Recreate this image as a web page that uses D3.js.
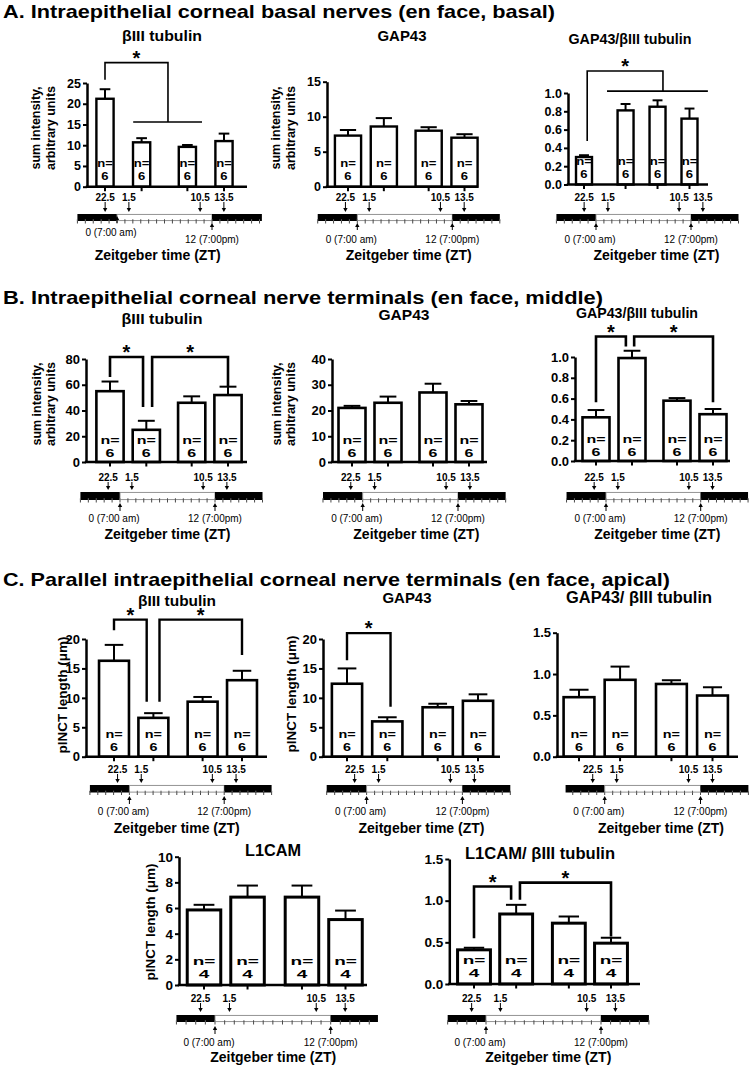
<!DOCTYPE html>
<html><head><meta charset="utf-8">
<script src="https://cdn.jsdelivr.net/npm/d3@7/dist/d3.min.js"></script>
<style>
body{margin:0;background:#fff;}
svg{display:block;font-family:"Liberation Sans",Arial,Helvetica,sans-serif;}
</style></head><body>
<svg id="chart" width="750" height="1065"></svg>
<script>
// ---------------- DATA ----------------
const sampleTimes = ["22.5", "1.5", "10.5", "13.5"];       // ZT of sampling (bars)
const ztMarks = [0, 12];
const ztMarkLabels = ["0 (7:00 am)", "12 (7:00pm)"];
const sectionTitles = [
  "A. Intraepithelial corneal basal nerves (en face, basal)",
  "B. Intraepithelial corneal nerve terminals (en face, middle)",
  "C. Parallel intraepithelial corneal nerve terminals (en face, apical)"
];
const nSix = [6, 6, 6, 6];
const nFour = [4, 4, 4, 4];

// A. basal
const aTubMean = [21.2, 10.7, 9.6, 11.0];
const aTubSem  = [2.3, 1.0, 0.45, 1.8];
const aGapMean = [7.3, 8.6, 8.0, 7.0];
const aGapSem  = [0.8, 1.2, 0.5, 0.5];
const aRatMean = [0.30, 0.81, 0.85, 0.72];
const aRatSem  = [0.02, 0.07, 0.07, 0.11];
// B. middle
const bTubMean = [55, 25, 46, 52];
const bTubSem  = [7.5, 7, 5, 6.5];
const bGapMean = [21, 23, 27, 22.4];
const bGapSem  = [0.8, 2.4, 3.4, 1.3];
const bRatMean = [0.42, 0.99, 0.58, 0.45];
const bRatSem  = [0.07, 0.07, 0.025, 0.05];
// C. apical
const cTubMean = [16.3, 6.6, 9.35, 13.0];
const cTubSem  = [2.7, 0.8, 0.8, 1.6];
const cGapMean = [12.4, 6.0, 8.4, 9.5];
const cGapSem  = [2.6, 0.7, 0.6, 1.1];
const cRatMean = [0.72, 0.93, 0.88, 0.74];
const cRatSem  = [0.09, 0.16, 0.045, 0.10];
const dL1Mean  = [5.85, 6.85, 6.85, 5.1];
const dL1Sem   = [0.4, 0.9, 0.9, 0.7];
const dRatMean = [0.41, 0.84, 0.73, 0.49];
const dRatSem  = [0.025, 0.11, 0.08, 0.065];

// tick values
const ticksA1 = [0, 5, 10, 15, 20, 25];
const ticksA2 = [0, 5, 10, 15];
const ticksR10 = [0, 0.2, 0.4, 0.6, 0.8, 1.0];
const ticksB1 = [0, 20, 40, 60, 80];
const ticksB2 = [0, 10, 20, 30, 40];
const ticksC = [0, 5, 10, 15, 20];
const ticksR15 = [0, 0.5, 1.0, 1.5];
const ticksD1 = [0, 2, 4, 6, 8, 10];

// significance brackets (x in bar-slot units, y in data units)
const brA1 = [{x1: 0, x2: 1.72, y: 29.9, y1: 25.8, y2: 15.6, g: [0.77, 2.65]}];
const brA3 = [{x1: 0.1, x2: 2.47, y: 1.24, y1: 0.475, y2: 1.02, g: [0.72, 3.875]}];
const brB1 = [{x1: 0, x2: 0.91, y: 81.5, y1: 66, y2: 42.7}, {x1: 1.16, x2: 3.25, y: 81.5, y1: 42.7, y2: 58.3}];
const brB3 = [{x1: 0, x2: 0.83, y: 1.197, y1: 0.566, y2: 1.10}, {x1: 1.06, x2: 3.25, y: 1.197, y1: 1.10, y2: 0.566}];
const brC1 = [{x1: 0, x2: 0.83, y: 23.3, y1: 21.5, y2: 9.35}, {x1: 1.155, x2: 3.25, y: 23.3, y1: 9.35, y2: 17.3}];
const brC2 = [{x1: 0, x2: 1.08, y: 21, y1: 16.4, y2: 8.5}];
const brD2 = [{x1: 0, x2: 0.88, y: 1.17, y1: 0.55, y2: 1.01}, {x1: 1.09, x2: 3.25, y: 1.216, y1: 1.01, y2: 0.57}];

// ---------------- LAYOUT ----------------
const slotsStd = [0, 1, 2.25, 3.25];
const slotsA3 = [0, 1.3, 2.3, 3.3];
const labSum = ["sum intensity,", "arbitrary units"];
const labLen = ["pINCT length (\u03bcm)"];
const secY = [17.5, 303.5, 585.5];
const secW = [552, 600, 667];

const rows = {
  A: {labY: 197, arrTop: 202, arrBot: 212, barTop: 214, barBot: 221, upTop: 223, upBot: 230, amY: 239.5, ztY: 255, nDy: -23.6, numDy: -10.2, nFs: 13.1, nK: 0.86, brW: 1.6, barSW: 2.4, tickFs: 12.5},
  B: {labY: 477, arrTop: 482, arrBot: 490, barTop: 492, barBot: 500, upTop: 503, upBot: 511, amY: 518.5, ztY: 533.5, nDy: -22, numDy: -8.7, nFs: 16, nK: 0.71, brW: 2.6, barSW: 2.6, tickFs: 13},
  C: {labY: 769.5, arrTop: 774, arrBot: 783, barTop: 785, barBot: 792.5, upTop: 796, upBot: 804, amY: 811.5, ztY: 828, nDy: -22.4, numDy: -9.8, nFs: 14.4, nK: 0.75, brW: 2.4, barSW: 2.6, tickFs: 13},
  D: {labY: 998.5, arrTop: 1003, arrBot: 1012, barTop: 1015, barBot: 1022, upTop: 1026, upBot: 1034, amY: 1042, ztY: 1057, nDy: -24.5, numDy: -11, nFs: 19, nK: 0.62, brW: 2.6, barSW: 3, tickFs: 13.5}
};

const panels = [
  {row: "A", title: "\u03b2III tubulin", tx: 162, ty: 36, ts: 14.5, tw: 80, mean: aTubMean, sem: aTubSem, n: nSix, ticks: ticksA1, dec: 0, dom: [0, 25],
   axisX: 87, y0: 186.7, yTop: 83, c0: 105, c3: 224, slots: slotsStd, barFrac: 0.47, axisEnd: 247, tl: [117, 212, -5, 18.3], ztDx: -12, amDy: -7,
   ylab: labSum, ylx: [36, 51], yly: 128, br: brA1},
  {row: "A", title: "GAP43", tx: 402, ty: 36, ts: 14.5, tw: 49, mean: aGapMean, sem: aGapSem, n: nSix, ticks: ticksA2, dec: 0, dom: [0, 15],
   axisX: 327, y0: 186.7, yTop: 81.7, c0: 348, c3: 464.5, slots: slotsStd, barFrac: 0.73, axisEnd: 478, tl: [357.3, 452.3, -5, 18], ztDx: 0, amDy: 0,
   ylab: labSum, ylx: [276, 291], yly: 128, br: []},
  {row: "A", title: "GAP43/\u03b2III tubulin", tx: 630, ty: 39, ts: 14.5, tw: 123, mean: aRatMean, sem: aRatSem, n: nSix, ticks: ticksR10, dec: 1, dom: [0, 1],
   axisX: 568, y0: 184.5, yTop: 93, c0: 584, c3: 689.5, slots: slotsA3, barFrac: 0.5, axisEnd: 708, tl: [596, 691, -5, 18], ztDx: 9, amDy: 0,
   ylab: null, br: brA3},
  {row: "B", title: "\u03b2III tubulin", tx: 162, ty: 319, ts: 14.5, tw: 81, mean: bTubMean, sem: bTubSem, n: nSix, ticks: ticksB1, dec: 0, dom: [0, 80],
   axisX: 86, y0: 462, yTop: 359, c0: 110, c3: 228, slots: slotsStd, barFrac: 0.75, axisEnd: 247, tl: [120, 215, -5, 18], ztDx: -4, amDy: 0,
   ylab: labSum, ylx: [37, 51], yly: 404, br: brB1},
  {row: "B", title: "GAP43", tx: 404, ty: 315, ts: 14.5, tw: 51, mean: bGapMean, sem: bGapSem, n: nSix, ticks: ticksB2, dec: 0, dom: [0, 40],
   axisX: 332, y0: 462, yTop: 359, c0: 352, c3: 469, slots: slotsStd, barFrac: 0.75, axisEnd: 487, tl: [362.7, 458, -5, 18], ztDx: 2, amDy: 0,
   ylab: labSum, ylx: [277, 291], yly: 404, br: []},
  {row: "B", title: "GAP43/\u03b2III tubulin", tx: 637, ty: 313, ts: 14.5, tw: 122, mean: bRatMean, sem: bRatSem, n: nSix, ticks: ticksR10, dec: 1, dom: [0, 1],
   axisX: 575, y0: 461, yTop: 357, c0: 596, c3: 713, slots: slotsStd, barFrac: 0.75, axisEnd: 730, tl: [606, 700.7, -5, 18], ztDx: 0, amDy: 0,
   ylab: null, br: brB3},
  {row: "C", title: "\u03b2III tubulin", tx: 177, ty: 600, ts: 15, tw: 78, mean: cTubMean, sem: cTubSem, n: nSix, ticks: ticksC, dec: 0, dom: [0, 20],
   axisX: 86, y0: 756.7, yTop: 639, c0: 114, c3: 242, slots: slotsStd, barFrac: 0.76, axisEnd: 267, tl: [129.4, 224.2, -5, 18], ztDx: -4, amDy: 0,
   ylab: labLen, ylx: [62], yly: 695, br: brC1},
  {row: "C", title: "GAP43", tx: 407, ty: 597, ts: 15, tw: 49, mean: cGapMean, sem: cGapSem, n: nSix, ticks: ticksC, dec: 0, dom: [0, 20],
   axisX: 323, y0: 756.7, yTop: 639, c0: 347, c3: 478, slots: slotsStd, barFrac: 0.75, axisEnd: 500, tl: [366.6, 462.4, -5, 18], ztDx: 3, amDy: 0,
   ylab: labLen, ylx: [291], yly: 694, br: brC2},
  {row: "C", title: "GAP43/ \u03b2III tubulin", tx: 639, ty: 597, ts: 16, tw: 146, mean: cRatMean, sem: cRatSem, n: nSix, ticks: ticksR15, dec: 1, dom: [0, 1.5],
   axisX: 557, y0: 756.7, yTop: 632.7, c0: 579, c3: 712.5, slots: slotsStd, barFrac: 0.75, axisEnd: 738, tl: [604.7, 700.5, -4.9, 18], ztDx: 4, amDy: 0,
   ylab: null, br: []},
  {row: "D", title: "L1CAM", tx: 273, ty: 850, ts: 16, tw: 56, mean: dL1Mean, sem: dL1Sem, n: nFour, ticks: ticksD1, dec: 0, dom: [0, 10],
   axisX: 179, y0: 985, yTop: 856.7, c0: 204, c3: 345.5, slots: slotsStd, barFrac: 0.77, axisEnd: 367, tl: [215, 330.7, -4, 16.9], ztDx: -4, amDy: 0,
   ylab: labLen, ylx: [150], yly: 922, br: []},
  {row: "D", title: "L1CAM/ \u03b2III tubulin", tx: 540, ty: 853, ts: 16, tw: 150, mean: dRatMean, sem: dRatSem, n: nFour, ticks: ticksR15, dec: 1, dom: [0, 1.5],
   axisX: 449.3, y0: 984, yTop: 859, c0: 474, c3: 611, slots: slotsStd, barFrac: 0.78, axisEnd: 640, tl: [486, 601, -4, 17], ztDx: 0, amDy: 0,
   ylab: null, br: brD2}
];

// ---------------- DRAW ----------------
const svg = d3.select("#chart");
svg.append("rect").attr("width", 750).attr("height", 1065).attr("fill", "#fff");

// section titles
svg.selectAll("text.sec").data(sectionTitles).join("text")
  .attr("class", "sec").attr("x", 3).attr("y", (d, i) => secY[i])
  .attr("font-size", 18.5).attr("font-weight", "bold").attr("fill", "#000")
  .attr("textLength", (d, i) => secW[i]).attr("lengthAdjust", "spacingAndGlyphs")
  .text(d => d);

function arrowHead(g, x, y, dir) { // dir 1 = pointing down, -1 = pointing up
  g.append("path").attr("d", `M${x - 2.2},${y - dir * 4}L${x + 2.2},${y - dir * 4}L${x},${y}Z`).attr("fill", "#000");
}

panels.forEach(p => {
  const R = rows[p.row];
  const g = svg.append("g");
  const y = d3.scaleLinear().domain(p.dom).range([p.y0, p.yTop]);
  const x = d3.scaleLinear().domain([p.slots[0], p.slots[3]]).range([p.c0, p.c3]);
  const unit = (p.c3 - p.c0) / (p.slots[3] - p.slots[0]);
  const bw = unit * p.barFrac;
  const fmt = d3.format("." + p.dec + "f");

  // title
  g.append("text").attr("x", p.tx).attr("y", p.ty).attr("text-anchor", "middle").attr("dominant-baseline", "central")
    .attr("font-size", p.ts).attr("font-weight", "bold")
    .attr("textLength", p.tw).attr("lengthAdjust", "spacingAndGlyphs").text(p.title);

  // bars
  g.selectAll("rect.bar").data(p.mean).join("rect").attr("class", "bar")
    .attr("x", (d, i) => x(p.slots[i]) - bw / 2).attr("y", d => y(d))
    .attr("width", bw).attr("height", d => p.y0 - y(d))
    .attr("fill", "#fff").attr("stroke", "#000").attr("stroke-width", R.barSW);

  // error bars (upper SEM)
  const capW = bw * 0.62;
  p.mean.forEach((m, i) => {
    const cx = x(p.slots[i]);
    g.append("line").attr("x1", cx).attr("x2", cx).attr("y1", y(m)).attr("y2", y(m + p.sem[i]))
      .attr("stroke", "#000").attr("stroke-width", 2);
    g.append("line").attr("x1", cx - capW / 2).attr("x2", cx + capW / 2).attr("y1", y(m + p.sem[i])).attr("y2", y(m + p.sem[i]))
      .attr("stroke", "#000").attr("stroke-width", 2);
  });

  // n labels ("n=" over the count), glyphs squat like the reference
  p.n.forEach((nv, i) => {
    const cx = x(p.slots[i]);
    [["n=", R.nDy], [String(nv), R.numDy]].forEach(([txt, dy]) => {
      g.append("text").attr("transform", `translate(${cx},${p.y0 + dy}) scale(1,${R.nK})`)
        .attr("text-anchor", "middle").attr("dominant-baseline", "central")
        .attr("font-size", R.nFs).attr("font-weight", "bold").text(txt);
    });
  });

  // y axis
  const ya = g.append("g").attr("transform", `translate(${p.axisX},0)`)
    .call(d3.axisLeft(y).tickValues(p.ticks).tickFormat(fmt).tickSize(4).tickSizeOuter(0).tickPadding(2));
  ya.select(".domain").attr("stroke", "#000").attr("stroke-width", 2.5);
  ya.selectAll(".tick line").attr("stroke", "#000").attr("stroke-width", 2);
  ya.selectAll(".tick text").attr("font-size", R.tickFs).attr("font-weight", "bold").attr("fill", "#000")
    .attr("font-family", '"Liberation Sans",Arial,sans-serif');

  // x axis
  g.append("line").attr("x1", p.axisX - 1.2).attr("x2", p.axisEnd).attr("y1", p.y0).attr("y2", p.y0)
    .attr("stroke", "#000").attr("stroke-width", 2.5);
  p.slots.forEach(s => {
    g.append("line").attr("x1", x(s)).attr("x2", x(s)).attr("y1", p.y0).attr("y2", p.y0 + 4.5)
      .attr("stroke", "#000").attr("stroke-width", 2);
  });

  // y label
  if (p.ylab) {
    p.ylab.forEach((t, i) => {
      g.append("text").attr("transform", `translate(${p.ylx[i]},${p.yly}) rotate(-90)`)
        .attr("text-anchor", "middle").attr("dominant-baseline", "central")
        .attr("font-size", p.row === "A" || p.row === "B" ? 12.5 : 13.5).attr("font-weight", "bold").text(t);
    });
  }

  // brackets
  p.br.forEach(b => {
    const path = `M${x(b.x1)},${y(b.y1)}V${y(b.y)}H${x(b.x2)}V${y(b.y2)}`;
    g.append("path").attr("d", path).attr("fill", "none").attr("stroke", "#000").attr("stroke-width", R.brW);
    if (b.g) {
      g.append("line").attr("x1", x(b.g[0])).attr("x2", x(b.g[1])).attr("y1", y(b.y2)).attr("y2", y(b.y2))
        .attr("stroke", "#000").attr("stroke-width", R.brW);
    }
    const sx = (x(b.x1) + x(b.x2)) / 2, sy = y(b.y) - 9;
    g.append("text").attr("x", sx).attr("y", sy + 11).attr("text-anchor", "middle")
      .attr("font-size", 20).attr("font-weight", "bold").text("*");
  });

  // ---- timeline ----
  const t = d3.scaleLinear().domain([0, 12]).range([p.tl[0], p.tl[1]]);
  const h0 = p.tl[2], h1 = p.tl[3];
  const bh = R.barBot - R.barTop;
  const hours = d3.range(Math.ceil(h0), Math.floor(h1) + 1);
  hours.forEach(h => {
    g.append("line").attr("x1", t(h)).attr("x2", t(h)).attr("y1", R.barBot - 1.5).attr("y2", R.barBot + 2.5)
      .attr("stroke", "#333").attr("stroke-width", 0.9);
  });
  g.append("rect").attr("x", t(h0)).attr("y", R.barTop).attr("width", t(0) - t(h0)).attr("height", bh).attr("fill", "#000");
  g.append("rect").attr("x", t(0)).attr("y", R.barTop + 0.4).attr("width", t(12) - t(0)).attr("height", bh - 0.8)
    .attr("fill", "#fff").attr("stroke", "#888").attr("stroke-width", 0.9);
  g.append("rect").attr("x", t(12)).attr("y", R.barTop).attr("width", t(h1) - t(12)).attr("height", bh).attr("fill", "#000");
  hours.forEach(h => {
    g.append("line").attr("x1", t(h)).attr("x2", t(h)).attr("y1", R.barBot - 1.8).attr("y2", R.barBot)
      .attr("stroke", h > 0 && h < 12 ? "#444" : "#777").attr("stroke-width", 0.9);
  });

  // sample arrows
  sampleTimes.forEach(s => {
    const h = +s > 18 ? +s - 24 : +s;
    const ax = t(h);
    g.append("line").attr("x1", ax).attr("x2", ax).attr("y1", R.arrTop).attr("y2", R.arrBot - 3).attr("stroke", "#000").attr("stroke-width", 1);
    arrowHead(g, ax, R.arrBot, 1);
    g.append("text").attr("x", ax).attr("y", R.labY).attr("text-anchor", "middle").attr("dominant-baseline", "central")
      .attr("font-size", 10).attr("font-weight", "bold").text(s);
  });
  // ZT markers
  ztMarks.forEach((z, i) => {
    const ax = t(z);
    const dy = i === 0 ? p.amDy : 0;
    g.append("line").attr("x1", ax).attr("x2", ax).attr("y1", R.upTop + 3 + dy).attr("y2", R.upBot + dy).attr("stroke", "#000").attr("stroke-width", 1);
    arrowHead(g, ax, R.upTop + dy, -1);
    g.append("text").attr("x", ax - (i === 0 ? 6 : 0)).attr("y", R.amY + dy).attr("text-anchor", "middle").attr("dominant-baseline", "central")
      .attr("font-size", 10).text(ztMarkLabels[i]);
  });
  g.append("text").attr("x", (t(h0) + t(h1)) / 2 + p.ztDx).attr("y", R.ztY).attr("text-anchor", "middle").attr("dominant-baseline", "central")
    .attr("font-size", 14).attr("font-weight", "bold").text("Zeitgeber time (ZT)");
});
</script>
</body></html>
